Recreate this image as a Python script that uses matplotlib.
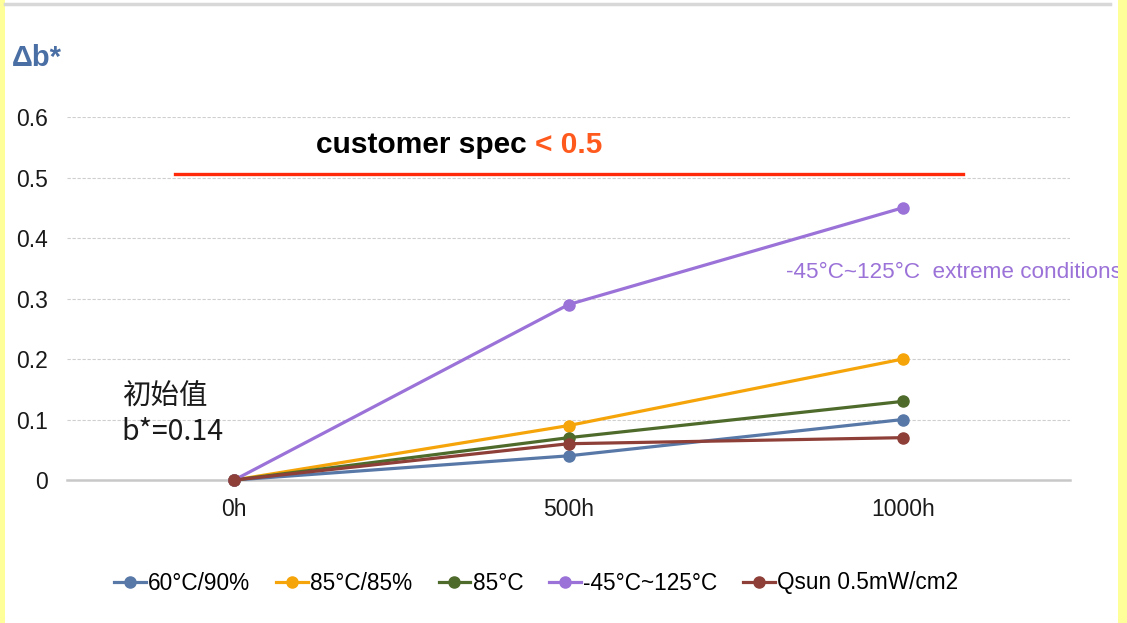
import matplotlib
matplotlib.use("Agg")
import matplotlib.pyplot as plt
from matplotlib.patches import Rectangle
from matplotlib.lines import Line2D

plt.rcParams["font.family"] = ["Liberation Sans", "Noto Sans CJK SC", "DejaVu Sans"]

hours = ["0h", "500h", "1000h"]
series_names = ["60°C/90%", "85°C/85%", "85°C", "-45°C~125°C", "Qsun 0.5mW/cm2"]
values_60_90 = [0.0, 0.04, 0.10]
values_85_85 = [0.0, 0.09, 0.20]
values_85 = [0.0, 0.07, 0.13]
values_cycle = [0.0, 0.29, 0.45]
values_qsun = [0.0, 0.06, 0.07]
series_colors = ["#5878A8", "#F5A40A", "#4F6B2C", "#9B72D8", "#8E3F38"]
y_ticks = [0, 0.1, 0.2, 0.3, 0.4, 0.5, 0.6]
spec_limit = 0.505


def main() -> None:
    fig = plt.figure(figsize=(11.27, 6.23), dpi=100)
    ax = fig.add_axes([0.0595, 0.2295, 0.890, 0.5827])

    x = list(range(len(hours)))
    all_values = [values_60_90, values_85_85, values_85, values_cycle, values_qsun]
    for name, vals, color in zip(series_names, all_values, series_colors):
        ax.plot(x, vals, color=color, linewidth=2.3, marker="o", markersize=8,
                label=name, clip_on=False, zorder=3)

    ax.set_xlim(-0.5, 2.5)
    ax.set_ylim(0, 0.6)
    ax.set_xticks(x)
    ax.set_xticklabels(hours)
    ax.set_yticks(y_ticks)
    ax.set_yticklabels(["0" if t == 0 else f"{t:.1f}" for t in y_ticks])
    ax.tick_params(axis="both", length=0, labelsize=16.5, colors="#1a1a1a")
    ax.tick_params(axis="y", pad=14)
    ax.tick_params(axis="x", pad=13)
    for side in ["top", "right", "left"]:
        ax.spines[side].set_visible(False)
    ax.spines["bottom"].set_color("#C8C8C8")
    ax.spines["bottom"].set_linewidth(1.8)
    ax.yaxis.grid(True, linestyle=(0, (3, 1.5)), color="#CFCFCF", linewidth=0.8)
    ax.set_axisbelow(True)

    # customer spec line
    ax.plot([-0.176, 2.18], [spec_limit, spec_limit], color="#FF2A0A", linewidth=2.4, zorder=2)

    t1 = ax.text(0.245, 0.554, "customer spec ", fontsize=21.5, fontweight="bold",
                 color="black", va="center", ha="left")
    fig.canvas.draw()
    bb = t1.get_window_extent()
    x_end = ax.transData.inverted().transform((bb.x1, bb.y0))[0]
    ax.text(x_end, 0.554, "< 0.5", fontsize=21.5, fontweight="bold",
            color="#FF5A1E", va="center", ha="left")

    ax.text(1.65, 0.343, "-45°C~125°C  extreme conditions", fontsize=16.2,
            color="#9B72D8", va="center", ha="left", clip_on=False)

    ax.text(-0.332, 0.137, "初始值", fontsize=20.5, color="#1a1a1a", va="center", ha="left",
            family=["Noto Sans CJK SC"])
    ax.text(-0.338, 0.079, "b*=0.14", fontsize=20.5, color="#1a1a1a", va="center", ha="left",
            family=["Noto Sans CJK SC"])

    fig.text(12 / 1127, 1 - 58 / 623, "Δb*", fontsize=21, fontweight="bold",
             color="#4A6FA5", va="center", ha="left")

    fig.legend(loc="center", bbox_to_anchor=(0.476, 1 - 583 / 623), ncol=5,
               frameon=False, fontsize=16.3, handlelength=1.4, handletextpad=0.1,
               columnspacing=1.15)

    # frame decorations
    fig.add_artist(Rectangle((0, 0), 5 / 1127, 1, transform=fig.transFigure,
                             facecolor="#FFFF99", edgecolor="none"))
    fig.add_artist(Rectangle((1 - 9 / 1127, 0), 9 / 1127, 1, transform=fig.transFigure,
                             facecolor="#FFFF99", edgecolor="none"))
    fig.add_artist(Line2D([5 / 1127, 1110 / 1127], [1 - 4 / 623, 1 - 4 / 623],
                          transform=fig.transFigure, color="#D8D8D8", linewidth=2.5))

    fig.savefig("out.png", dpi=100)


if __name__ == "__main__":
    main()
